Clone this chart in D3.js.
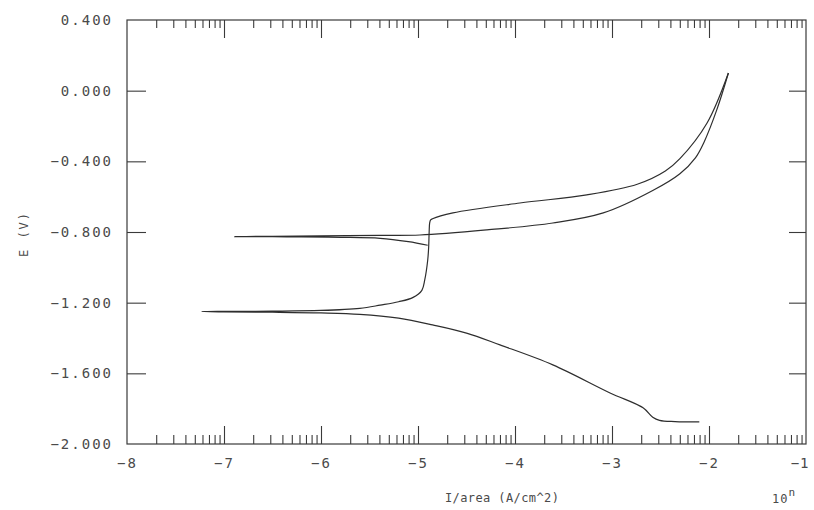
<!DOCTYPE html>
<html>
<head>
<meta charset="utf-8">
<script src="https://cdn.jsdelivr.net/npm/d3@7"></script>
<style>
    html, body { margin: 0; padding: 0; background: #fff; }
    svg text { font-family: "DejaVu Sans Mono", monospace; fill: #4a4a4a; }
</style>
</head>
<body>
<svg class="polar-svg" width="814" height="510"></svg>
<script>
// log10 of current density (A/cm^2) and potential (V)
var forwardLogI = [-2.10, -2.35, -2.51, -2.58, -2.68, -3.02, -3.61, -4.155, -4.50, -4.85, -5.20, -5.60, -6.00, -6.50, -7.00, -7.23,
    -7.00, -6.50, -6.00, -5.60, -5.39, -5.20, -5.05, -4.96, -4.93, -4.90, -4.89, -4.885, -4.88, -4.87, -4.85, -4.64, -3.95, -3.26, -2.74, -2.45, -2.30, -2.02, -1.80];
var forwardE = [-1.875, -1.873, -1.866, -1.848, -1.795, -1.711, -1.552, -1.439, -1.372, -1.326, -1.288, -1.266, -1.258, -1.254, -1.252, -1.250,
    -1.249, -1.248, -1.244, -1.232, -1.214, -1.195, -1.170, -1.130, -1.070, -0.960, -0.885, -0.800, -0.750, -0.732, -0.725, -0.692, -0.636, -0.590, -0.530, -0.455, -0.385, -0.183, 0.100];

var reverseLogI = [-1.80, -1.92, -2.05, -2.14, -2.30, -2.58, -3.09, -3.61, -4.29, -4.98, -5.40, -6.00, -6.50, -6.89,
    -6.50, -6.20, -5.80, -5.39, -5.10, -4.90];
var reverseE = [0.100, -0.109, -0.290, -0.380, -0.470, -0.565, -0.692, -0.749, -0.788, -0.817, -0.819, -0.822, -0.824, -0.826,
    -0.827, -0.828, -0.830, -0.836, -0.855, -0.875];

var xTicks = [-8, -7, -6, -5, -4, -3, -2, -1];
var yTicks = [0.4, 0.0, -0.4, -0.8, -1.2, -1.6, -2.0];

var margin = { top: 20, right: 8, bottom: 66, left: 127 };
var svg = d3.select("svg.polar-svg");
var width = +svg.attr("width") - margin.left - margin.right;
var height = +svg.attr("height") - margin.top - margin.bottom;

var xScale = d3.scaleLinear().domain([-8, -1]).range([0, width]);
var yScale = d3.scaleLinear().domain([-2.0, 0.4]).range([height, 0]);

var g = svg.append("g")
    .attr("transform", "translate(" + margin.left + "," + margin.top + ")");

// minor ticks inside each decade
var minorTicks = [];
xTicks.slice(0, -1).forEach(function (d) {
    for (var k = 2; k <= 9; k++) {
        minorTicks.push(d + Math.log10(k));
    }
});

function styleAxis(sel) {
    sel.select(".domain").remove();
    sel.selectAll("line").attr("stroke", "#3a3a3a").attr("stroke-width", 1.1);
    sel.selectAll("text").attr("font-size", 14).attr("letter-spacing", 2).attr("fill", "#4a4a4a");
}

// bottom axis
g.append("g")
    .attr("transform", "translate(0," + height + ")")
    .call(d3.axisBottom(xScale).tickValues(minorTicks).tickSize(-9).tickFormat(""))
    .call(styleAxis);
g.append("g")
    .attr("transform", "translate(0," + height + ")")
    .call(d3.axisBottom(xScale).tickValues(xTicks.slice(1, -1)).tickSize(-18).tickFormat(""))
    .call(styleAxis);
var xLabels = g.append("g")
    .attr("transform", "translate(0," + height + ")")
    .call(d3.axisBottom(xScale).tickValues(xTicks).tickSize(0).tickPadding(14).tickFormat(d3.format("d")))
    .call(styleAxis);
// keep the last label inside the window
xLabels.selectAll("text").filter(function (d) { return d === -1; })
    .attr("text-anchor", "end")
    .attr("letter-spacing", 1)
    .attr("dx", 3);

// top axis
g.append("g")
    .call(d3.axisTop(xScale).tickValues(minorTicks).tickSize(-8).tickFormat(""))
    .call(styleAxis);
g.append("g")
    .call(d3.axisTop(xScale).tickValues(xTicks.slice(1, -1)).tickSize(-18).tickFormat(""))
    .call(styleAxis);

// left and right axes
g.append("g")
    .call(d3.axisLeft(yScale).tickValues(yTicks).tickSize(0).tickPadding(14).tickFormat(d3.format(".3f")))
    .call(styleAxis);
g.append("g")
    .call(d3.axisLeft(yScale).tickValues(yTicks.slice(1, -1)).tickSize(-19).tickFormat(""))
    .call(styleAxis);
g.append("g")
    .attr("transform", "translate(" + width + ",0)")
    .call(d3.axisRight(yScale).tickValues(yTicks.slice(1, -1)).tickSize(-17).tickFormat(""))
    .call(styleAxis);

// frame
g.append("rect")
    .attr("width", width)
    .attr("height", height)
    .attr("fill", "none")
    .attr("stroke", "#3a3a3a")
    .attr("stroke-width", 1.2);

var line = d3.line()
    .x(function (d) { return xScale(d[0]); })
    .y(function (d) { return yScale(d[1]); })
    .curve(d3.curveCatmullRom.alpha(0.5));

var forward = forwardLogI.map(function (d, i) { return [d, forwardE[i]]; });
var reverse = reverseLogI.map(function (d, i) { return [d, reverseE[i]]; });

[forward, reverse].forEach(function (data) {
    g.append("path")
        .datum(data)
        .attr("fill", "none")
        .attr("stroke", "#2e2e2e")
        .attr("stroke-width", 1.2)
        .attr("d", line);
});

// axis titles
svg.append("text")
    .attr("x", 445)
    .attr("y", 502)
    .attr("font-size", 12)
    .attr("letter-spacing", 0.4)
    .text("I/area (A/cm^2)");

svg.append("text")
    .attr("transform", "translate(28,234) rotate(-90)")
    .attr("text-anchor", "middle")
    .attr("font-size", 12)
    .attr("letter-spacing", 2)
    .text("E (V)");

var exp = svg.append("text")
    .attr("x", 772)
    .attr("y", 503)
    .attr("font-size", 12)
    .attr("letter-spacing", 1);
exp.append("tspan").text("10");
exp.append("tspan").attr("dy", -7).attr("font-size", 11).text("n");
</script>
</body>
</html>
